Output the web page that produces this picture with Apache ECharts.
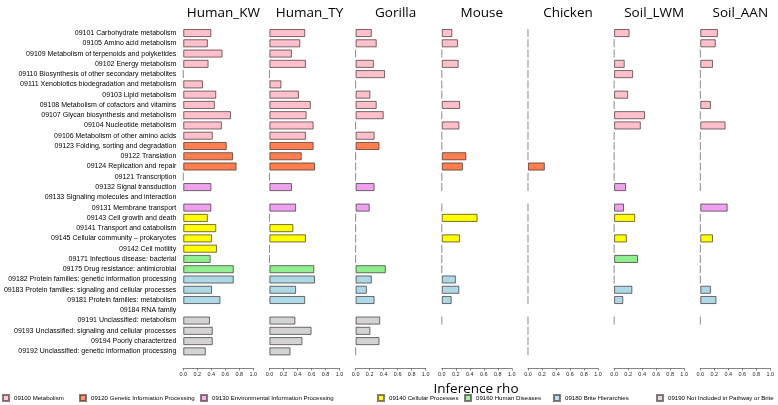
<!DOCTYPE html>
<html><head><meta charset="utf-8">
<script src="https://cdn.jsdelivr.net/npm/echarts@6/dist/echarts.min.js"></script>
<style>html,body{margin:0;padding:0;background:#fff}#c{width:778px;height:405px}</style>
</head><body><div id="c"></div>
<script>
const categories = [
 "09101 Carbohydrate metabolism","09105 Amino acid metabolism","09109 Metabolism of terpenoids and polyketides",
 "09102 Energy metabolism","09110 Biosynthesis of other secondary metabolites","09111 Xenobiotics biodegradation and metabolism",
 "09103 Lipid metabolism","09108 Metabolism of cofactors and vitamins","09107 Glycan biosynthesis and metabolism",
 "09104 Nucleotide metabolism","09106 Metabolism of other amino acids","09123 Folding, sorting and degradation",
 "09122 Translation","09124 Replication and repair","09121 Transcription","09132 Signal transduction",
 "09133 Signaling molecules and interaction","09131 Membrane transport","09143 Cell growth and death",
 "09141 Transport and catabolism","09145 Cellular community \u2013 prokaryotes","09142 Cell motility",
 "09171 Infectious disease: bacterial","09175 Drug resistance: antimicrobial",
 "09182 Protein families: genetic information processing","09183 Protein families: signaling and cellular processes",
 "09181 Protein families: metabolism","09184 RNA family","09191 Unclassified: metabolism",
 "09193 Unclassified: signaling and cellular processes","09194 Poorly characterized",
 "09192 Unclassified: genetic information processing"];
const categoryGroup = [0,0,0,0,0,0,0,0,0,0,0,1,1,1,1,2,2,2,3,3,3,3,4,4,5,5,5,5,6,6,6,6];
const groups = ["09100 Metabolism","09120 Genetic Information Processing","09130 Environmental Information Processing",
 "09140 Cellular Processes","09160 Human Diseases","09180 Brite Hierarchies","09190 Not Included in Pathway or Brite"];
const groupColors = ["#FFC0CB","#FF7F50","#EEA2EE","#FFFF00","#90EE90","#ADD8E6","#D3D3D3"];
const panels = ["Human_KW","Human_TY","Gorilla","Mouse","Chicken","Soil_LWM","Soil_AAN"];
const humanKW = [0.40,0.35,0.56,0.36,0,0.28,0.47,0.45,0.68,0.55,0.42,0.62,0.71,0.76,0,0.40,null,0.40,0.35,0.47,0.41,0.48,0.39,0.72,0.72,0.41,0.53,null,0.38,0.42,0.42,0.32];
const humanTY = [0.51,0.44,0.32,0.52,0,0.17,0.42,0.59,0.53,0.63,0.52,0.63,0.46,0.65,0,0.32,null,0.38,0,0.34,0.52,0,0,0.64,0.65,0.38,0.51,null,0.37,0.60,0.47,0.30];
const gorilla = [0.23,0.30,0,0.26,0.42,0,0.21,0.30,0.40,0,0.27,0.34,0,0,0,0.27,null,0.20,0,0,0,0,0,0.43,0.23,0.16,0.27,null,0.35,0.21,0.34,0];
const mouse = [0.15,0.23,0,0.24,0,0,0,0.26,0,0.25,0,0,0.35,0.30,0,0,null,0,0.51,0,0.26,0,0,0,0.20,0.25,0.14,null,0,null,null,null];
const chicken = [0,0,0,0,0,0,0,0,0,0,0,0,0,0.24,0,0,null,0,0,0,0,0,0,0,0,0,0,null,0,0,0,0];
const soilLWM = [0.22,0,0,0.15,0.27,0,0.20,0,0.44,0.38,0,0,0,0,0,0.17,null,0.14,0.30,0,0.18,0,0.34,0,0,0.26,0.13,null,0,null,null,null];
const soilAAN = [0.25,0.22,0,0.18,0,0,0,0.15,0,0.36,0,0,0,0,0,0,null,0.39,0,0,0.18,0,0,0,0,0.15,0.23,null,0,null,null,null];
const panelValues = [humanKW,humanTY,gorilla,mouse,chicken,soilLWM,soilAAN];
const xTicks = [0,0.2,0.4,0.6,0.8,1.0];

const chart = echarts.init(document.getElementById('c'));
const P0 = 183.3, PSTEP = 86.17, PW = 70, TOP = 27.9, H = 328.6;
const font = "Liberation Sans, Arial, sans-serif";
const grids = [], xAxes = [], yAxes = [], series = [], titles = [];
panels.forEach((p, i) => {
  const left = P0 + i * PSTEP;
  grids.push({left: left, top: TOP, width: PW, height: H});
  xAxes.push({gridIndex: i, type: 'value', min: 0, max: 1, interval: 0.2, offset: 12,
    axisLine: {show: true, lineStyle: {color: '#333', width: 0.6}},
    axisTick: {show: true, length: 2, lineStyle: {color: '#333', width: 0.6}},
    splitLine: {show: false},
    axisLabel: {fontSize: 5.5, color: '#222', margin: 3, fontFamily: font,
      formatter: v => v.toFixed(1)}});
  yAxes.push({gridIndex: i, type: 'category', inverse: true, data: categories,
    axisLine: {show: false}, axisTick: {show: false}, splitLine: {show: false},
    axisLabel: {show: i === 0, fontSize: 7, color: '#000', margin: 7, fontFamily: font, interval: 0}});
  titles.push({text: p, left: left + PW / 2, top: 1, textAlign: 'center',
    textStyle: {fontSize: 13.5, fontWeight: 'normal', color: '#000', fontFamily: 'Open Sans'}});
  const vals = panelValues[i];
  series.push({type: 'bar', xAxisIndex: i, yAxisIndex: i, barWidth: 8, silent: true,
    data: vals.map((v, k) => (v === null || v === 0) ? '-' : {value: v,
      itemStyle: {color: groupColors[categoryGroup[k]], borderColor: 'rgba(40,25,25,0.7)', borderWidth: 0.9}})});
  series.push({type: 'scatter', xAxisIndex: i, yAxisIndex: i, symbol: 'rect', symbolSize: [1, 8], silent: true,
    itemStyle: {color: '#6e6e6e'},
    data: vals.map((v, k) => v === 0 ? [0, k] : null).filter(d => d)});
});
titles.push({text: 'Inference rho', left: 471, top: 377, textAlign: 'center',
  textStyle: {fontSize: 13.5, fontWeight: 'normal', color: '#000', fontFamily: 'Open Sans'}});
const legendLefts = [2, 79, 200, 377, 464, 553, 656];
const legends = groups.map((g, j) => ({data: [g], left: legendLefts[j], top: 394, icon: 'rect',
  itemWidth: 6, itemHeight: 6, itemGap: 4, selectedMode: false, padding: 0,
  textStyle: {fontSize: 6.1, color: '#000', fontFamily: font}}));
groups.forEach((g, j) => series.push({type: 'scatter', name: g, xAxisIndex: 0, yAxisIndex: 0, data: [],
  itemStyle: {color: groupColors[j], borderColor: 'rgba(40,25,25,0.7)', borderWidth: 0.8}}));
chart.setOption({animation: false, title: titles, grid: grids, xAxis: xAxes, yAxis: yAxes,
  legend: legends, series: series});
</script></body></html>
